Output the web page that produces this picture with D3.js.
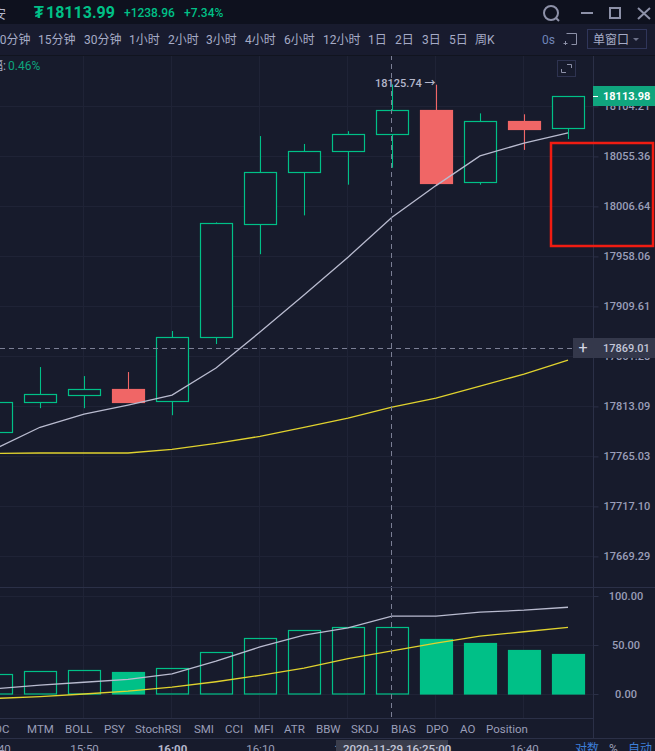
<!DOCTYPE html>
<html>
<head>
<meta charset="utf-8">
<style>
  html, body { margin: 0; padding: 0; background: #171b2c; overflow: hidden; }
  text { font-family: Roboto, "Noto Sans CJK SC", sans-serif; }
</style>
</head>
<body>
<div id="chart"></div>
<script src="https://cdn.jsdelivr.net/npm/d3@7/dist/d3.min.js"></script>
<script>
// 5 minute candles, 15:40 to 16:45
const times  = ["15:40","15:45","15:50","15:55","16:00","16:05","16:10","16:15","16:20","16:25","16:30","16:35","16:40","16:45"];
const opens  = [17788.2,17817.2,17824.4,17829.7,17818.1,17880.0,17990.2,18040.4,18060.7,18077.2,18100.3,18029.8,18089.7,18082.9];
const closes = [17817.2,17824.9,17829.7,17817.2,17880.0,17990.2,18040.4,18060.7,18077.2,18100.3,18028.8,18089.7,18082.0,18113.98];
const highs  = [17822.0,17851.0,17842.3,17846.2,17885.8,17991.1,18075.2,18067.5,18080.0,18125.74,18125.5,18097.4,18096.5,18113.98];
const lows   = [17780.0,17811.4,17811.4,17817.2,17804.6,17873.2,17960.2,17997.9,18027.8,18044.3,18026.9,18027.8,18061.7,18072.3];
const maFast = [17772.7,17793.0,17805.6,17814.3,17823.9,17850.0,17884.8,17920.6,17957.3,17996.0,18026.9,18055.9,18068.4,18078.4];
const maSlow = [17767.9,17768.3,17768.3,17768.3,17771.7,17777.5,17784.3,17793.0,17801.7,17812.3,17821.0,17832.6,17844.2,17857.7];

// lower panel
const subBars   = [20.8,23,24,22,27,43,57,65,68,68.5,56,52,45,41];
const subFilled = [false,false,false,true,false,false,false,false,false,false,true,true,true,true];
const subFast   = [5.5,9,12,15,20.5,33.5,48,60,67.5,79.5,79.5,83.5,85.5,88.5];
const subSlow   = [-4.5,-2.7,0,3,7,12.5,19,26.5,36,44,52,59,63.5,68];

const priceTicks = [18104.21,18055.36,18006.64,17958.06,17909.61,17861.28,17813.09,17765.03,17717.10,17669.29];
const subTicks   = [100,50,0];
const timeTicks  = ["15:40","15:50","16:00","16:10","16:20","16:30","16:40"];
const periods    = ["10分钟","15分钟","30分钟","1小时","2小时","3小时","4小时","6小时","12小时","1日","2日","3日","5日","周K"];
const periodX    = [-7,38,84,129,168,206,245,284,323,368,395,422,449,475];
const tabs       = ["ROC","MTM","BOLL","PSY","StochRSI","SMI","CCI","MFI","ATR","BBW","SKDJ","BIAS","DPO","AO","Position"];
const tabX       = [-13,27,65,104,135,194,225,254,284,316,351,391,426,460,486];

const UP = "#00c087", DOWN = "#f06666", AXIS = "#2b3047", GRID = "#1f2336", LABEL = "#9a9eb8";
const parse = d3.timeParse("%H:%M");

const svg = d3.select("#chart").append("svg").attr("width", 655).attr("height", 751).style("display", "block");
svg.append("rect").attr("width", 655).attr("height", 751).attr("fill", "#171b2c");

const x = d3.scaleTime().domain([parse("15:40"), parse("16:40")]).range([-4, 524]);
const y = d3.scaleLog().domain([17669.29, 18104.21]).range([556.4, 106.4]);
const ySub = d3.scaleLinear().domain([0, 100]).range([694, 596]);
const bodyW = 32;

// grid
const grid = svg.append("g").attr("stroke", GRID).attr("stroke-width", 1);
timeTicks.forEach(t => {
  grid.append("line").attr("x1", x(parse(t)) - 0.5).attr("x2", x(parse(t)) - 0.5).attr("y1", 55).attr("y2", 718);
});
priceTicks.forEach(p => {
  grid.append("line").attr("x1", 0).attr("x2", 593).attr("y1", Math.round(y(p)) + 0.5).attr("y2", Math.round(y(p)) + 0.5);
});
subTicks.forEach(p => {
  grid.append("line").attr("x1", 0).attr("x2", 593).attr("y1", ySub(p) + 0.5).attr("y2", ySub(p) + 0.5);
});

// candles
const candles = svg.append("g").selectAll("g").data(times).enter().append("g");
const cx = d => Math.round(x(parse(d))) + 0.5;
const isUp = i => closes[i] >= opens[i];
candles.append("line")
  .attr("x1", cx).attr("x2", cx)
  .attr("y1", (d, i) => y(highs[i]))
  .attr("y2", (d, i) => y(lows[i]))
  .attr("stroke", (d, i) => isUp(i) ? UP : DOWN)
  .attr("stroke-width", 1.1);
candles.append("rect")
  .attr("x", d => cx(d) - bodyW / 2)
  .attr("width", bodyW)
  .attr("y", (d, i) => Math.round(y(Math.max(opens[i], closes[i]))) + 0.5)
  .attr("height", (d, i) => Math.round(Math.abs(y(opens[i]) - y(closes[i]))))
  .attr("fill", (d, i) => isUp(i) ? "#171b2c" : DOWN)
  .attr("stroke", (d, i) => isUp(i) ? UP : DOWN)
  .attr("stroke-width", 1.2);

// moving averages
const priceLine = d3.line().x((d, i) => x(parse(times[i]))).y(d => y(d));
svg.append("path").attr("d", priceLine(maSlow)).attr("fill", "none").attr("stroke", "#e0d22e").attr("stroke-width", 1.3);
svg.append("path").attr("d", priceLine(maFast)).attr("fill", "none").attr("stroke", "#b9bbcf").attr("stroke-width", 1.3);

// lower panel bars and lines
svg.append("g").selectAll("rect").data(subBars).enter().append("rect")
  .attr("x", (d, i) => cx(times[i]) - bodyW / 2)
  .attr("width", bodyW)
  .attr("y", d => Math.round(ySub(d)) + 0.5)
  .attr("height", d => 693.5 - Math.round(ySub(d)))
  .attr("fill", (d, i) => subFilled[i] ? UP : "none")
  .attr("stroke", UP)
  .attr("stroke-width", 1.2);
const subLine = d3.line().x((d, i) => x(parse(times[i]))).y(d => ySub(d));
svg.append("path").attr("d", subLine(subSlow)).attr("fill", "none").attr("stroke", "#e0d22e").attr("stroke-width", 1.3);
svg.append("path").attr("d", subLine(subFast)).attr("fill", "none").attr("stroke", "#b9bbcf").attr("stroke-width", 1.3);

// high marker
svg.append("text").attr("x", 375).attr("y", 87).attr("font-size", 11).attr("font-weight", 500).attr("fill", "#b4b7cb").text("18125.74 →");

// crosshair
const cross = svg.append("g").attr("stroke", "#7b7f95").attr("stroke-dasharray", "5,4").attr("stroke-width", 1);
cross.append("line").attr("x1", 391.5).attr("x2", 391.5).attr("y1", 55).attr("y2", 718);
cross.append("line").attr("x1", 0).attr("x2", 573).attr("y1", 348.5).attr("y2", 348.5);

// right axis
svg.append("rect").attr("x", 593).attr("y", 55).attr("width", 62).attr("height", 696).attr("fill", "#171b2c");
const priceAxis = d3.axisRight(y).tickValues(priceTicks).tickFormat(d3.format(".2f")).tickSize(5).tickPadding(5);
const gPrice = svg.append("g").attr("transform", "translate(593.5,0)").call(priceAxis);
gPrice.select(".domain").remove();
gPrice.selectAll("line").attr("stroke", AXIS);
gPrice.selectAll("text").attr("fill", LABEL).attr("font-size", 11).attr("font-family", "Roboto").attr("font-weight", 500);

const subAxis = d3.axisRight(ySub).tickValues(subTicks).tickFormat(d3.format(".2f")).tickSize(5).tickPadding(0);
const gSub = svg.append("g").attr("transform", "translate(593.5,0)").call(subAxis);
gSub.select(".domain").remove();
gSub.selectAll("line").attr("stroke", AXIS);
gSub.selectAll("text").attr("x", 32.5).attr("text-anchor", "middle").attr("fill", LABEL).attr("font-size", 11).attr("font-family", "Roboto").attr("font-weight", 500);

svg.append("line").attr("x1", 593.5).attr("x2", 593.5).attr("y1", 55).attr("y2", 738).attr("stroke", AXIS);
svg.append("line").attr("x1", 0).attr("x2", 655).attr("y1", 587.5).attr("y2", 587.5).attr("stroke", AXIS);

// current price tag
svg.append("rect").attr("x", 593).attr("y", 86).attr("width", 62).attr("height", 20).attr("fill", "#10a57e");
svg.append("line").attr("x1", 593).attr("x2", 598).attr("y1", 96.5).attr("y2", 96.5).attr("stroke", "#fff");
svg.append("text").attr("x", 603).attr("y", 100).attr("font-size", 11).attr("font-weight", 700).attr("fill", "#fff").text("18113.98");

// crosshair tag
svg.append("rect").attr("x", 573).attr("y", 338).attr("width", 82).attr("height", 20).attr("fill", "#34384b");
svg.append("text").attr("x", 583).attr("y", 353).attr("text-anchor", "middle").attr("font-size", 16).attr("fill", "#d5d7e4").text("+");
svg.append("text").attr("x", 603).attr("y", 352).attr("font-size", 11).attr("font-weight", 500).attr("fill", "#c3c6d8").text("17869.01");

// header
svg.append("rect").attr("width", 655).attr("height", 24).attr("fill", "#0e111e");
svg.append("text").attr("x", -7).attr("y", 18).attr("font-size", 13).attr("fill", "#b4b7cb").text("安");
svg.append("text").attr("x", 34).attr("y", 18).attr("font-size", 16).attr("font-weight", 700).attr("fill", UP).text("₮");
svg.append("text").attr("x", 46).attr("y", 18).attr("font-size", 16).attr("font-weight", 700).attr("fill", UP).text("18113.99");
svg.append("text").attr("x", 124).attr("y", 17).attr("font-size", 12).attr("font-weight", 500).attr("fill", UP).text("+1238.96");
svg.append("text").attr("x", 184).attr("y", 17).attr("font-size", 12).attr("font-weight", 500).attr("fill", UP).text("+7.34%");

// window buttons
const icons = svg.append("g").attr("fill", "none").attr("stroke", "#8d91a8").attr("stroke-width", 2);
icons.append("circle").attr("cx", 551).attr("cy", 13).attr("r", 7);
icons.append("line").attr("x1", 556).attr("y1", 18).attr("x2", 559).attr("y2", 21);
icons.append("line").attr("x1", 581).attr("y1", 13).attr("x2", 593).attr("y2", 13);
icons.append("rect").attr("x", 610).attr("y", 8).attr("width", 10).attr("height", 10);
icons.append("path").attr("d", "M638,8L650,19M650,8L638,19");

// period toolbar
svg.append("rect").attr("y", 24).attr("width", 655).attr("height", 31).attr("fill", "#181b2e");
svg.append("line").attr("x1", 0).attr("x2", 655).attr("y1", 55.5).attr("y2", 55.5).attr("stroke", "#11141f");
svg.append("g").selectAll("text").data(periods).enter().append("text")
  .attr("x", (d, i) => periodX[i]).attr("y", 44).attr("font-size", 12).attr("fill", "#a6abc6").text(d => d);
svg.append("text").attr("x", 542).attr("y", 44).attr("font-size", 12).attr("fill", "#6f85b8").text("0s");
svg.append("path").attr("d", "M566.5,33.5H576.5V44.5H571.5M565.5,41V45M563.5,43.5H567.5").attr("fill", "none").attr("stroke", "#8d91a8");
svg.append("rect").attr("x", 587.5).attr("y", 29.5).attr("width", 59).attr("height", 19).attr("fill", "none").attr("stroke", "#30365a");
svg.append("text").attr("x", 593).attr("y", 44).attr("font-size", 12).attr("fill", "#a6abc6").text("单窗口");
svg.append("path").attr("d", "M633,38h6l-3,3z").attr("fill", "#6d7189");

// left info line and fullscreen
svg.append("text").attr("x", -9).attr("y", 70).attr("font-size", 12).attr("fill", "#a6abc6").text("幅:");
svg.append("text").attr("x", 8).attr("y", 70).attr("font-size", 12).attr("fill", "#0da57d").text("0.46%");
svg.append("rect").attr("x", 557.5).attr("y", 60.5).attr("width", 18).attr("height", 16).attr("fill", "none").attr("stroke", "#2e3350");
svg.append("path").attr("d", "M567,64.5H571.5V68M561.5,69V72.5H566").attr("fill", "none").attr("stroke", "#8d91a8");

// indicator tabs
svg.append("rect").attr("y", 718).attr("width", 593).attr("height", 20).attr("fill", "#171b2c");
svg.append("line").attr("x1", 0).attr("x2", 593).attr("y1", 718.5).attr("y2", 718.5).attr("stroke", AXIS);
svg.append("g").selectAll("text").data(tabs).enter().append("text")
  .attr("x", (d, i) => tabX[i]).attr("y", 733).attr("font-size", 11.5).attr("fill", LABEL).text(d => d);
svg.append("line").attr("x1", 0).attr("x2", 655).attr("y1", 738.5).attr("y2", 738.5).attr("stroke", AXIS);

// time axis
const timeAxis = d3.axisBottom(x).tickValues(timeTicks.map(parse)).tickFormat(d3.timeFormat("%H:%M")).tickSize(0).tickPadding(0);
const gTime = svg.append("g").attr("transform", "translate(0,746)").call(timeAxis);
gTime.select(".domain").remove();
gTime.selectAll("text").attr("fill", LABEL).attr("font-size", 11.5).attr("font-family", "Roboto").attr("dy", "0.6em");
gTime.selectAll("text").filter(d => d3.timeFormat("%H:%M")(d) === "16:00").attr("font-weight", 700).attr("fill", "#b4b7cb");

svg.append("rect").attr("x", 336).attr("y", 740).attr("width", 112).attr("height", 11).attr("fill", "#3a3d4c");
svg.append("text").attr("x", 343).attr("y", 753).attr("font-size", 11.5).attr("font-weight", 500).attr("fill", "#c3c6d8").text("2020-11-29 16:25:00");

svg.append("text").attr("x", 575).attr("y", 753).attr("font-size", 12).attr("fill", "#3d7fd9").text("对数");
svg.append("text").attr("x", 609).attr("y", 753).attr("font-size", 12).attr("fill", LABEL).text("%");
svg.append("text").attr("x", 628).attr("y", 753).attr("font-size", 12).attr("fill", "#3d7fd9").text("自动");

// red annotation box
svg.append("rect").attr("x", 551).attr("y", 143).attr("width", 102).attr("height", 103)
  .attr("fill", "none").attr("stroke", "#f01c12").attr("stroke-width", 2.5);
</script>
</body>
</html>
